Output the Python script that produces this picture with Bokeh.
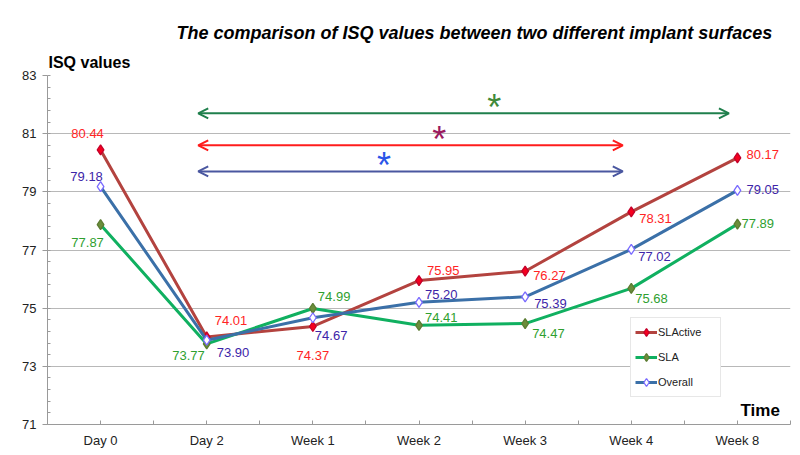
from bokeh.plotting import figure
from bokeh.models import (ColumnDataSource, Range1d, FixedTicker, Label, Arrow,
                          OpenHead, Legend, LegendItem, Title)
from bokeh.core.properties import value
from bokeh.embed import file_html
from bokeh.resources import INLINE
import numpy as np

# ---------------- data ----------------
categories = ["Day 0", "Day 2", "Week 1", "Week 2", "Week 3", "Week 4", "Week 8"]
slactive = [80.44, 74.01, 74.37, 75.95, 76.27, 78.31, 80.17]
sla = [77.87, 73.77, 74.99, 74.41, 74.47, 75.68, 77.89]
overall = [79.18, 73.90, 74.67, 75.20, 75.39, 77.02, 79.05]
y_ticks = [71, 73, 75, 77, 79, 81, 83]

# significance brackets: start category, end category, level
sig_start = ["Day 2", "Day 2", "Day 2"]
sig_end = ["Week 8", "Week 4", "Week 4"]
sig_level = [81.7, 80.6, 79.7]

# ---------------- styles ----------------
FONT = "Liberation Sans"
series = [
    dict(name="SLActive", vals=slactive, line="#b3433f", mfill="#f5001e", mline="#c4002a",
         tcol="#ff2424",
         dx=[-13, 8, 0, 8, 8, 8, 9], dy=[-16, -16, 29, -10, 4, 7, -3],
         al=["center", "left", "center", "left", "left", "left", "left"]),
    dict(name="SLA", vals=sla, line="#10b060", mfill="#6b8e3b", mline="#5c7c32",
         tcol="#2f9f2f",
         dx=[-13, -2, 5, 6, 7, 4, 4], dy=[18, 12, -12, -8, 10, 10, -1],
         al=["center", "right", "left", "left", "left", "left", "left"]),
    dict(name="Overall", vals=overall, line="#3b70a8", mfill="#ffffff", mline="#7a6bff",
         tcol="#3d24a8",
         dx=[-14, 10, 2, 6, 9, 7, 9], dy=[-10, 12, 18, -8, 7, 7, -1],
         al=["center", "left", "left", "left", "left", "left", "left"]),
]

W, H = 800, 455
p = figure(width=W, height=H, output_backend="svg", toolbar_location=None,
           x_range=Range1d(-0.5, 6.5), y_range=Range1d(71, 83),
           min_border_left=47, min_border_right=10, min_border_top=75,
           min_border_bottom=31)
p.title.visible = False
p.outline_line_color = None
p.background_fill_color = "white"
p.border_fill_color = "white"

xs = list(range(len(categories)))

# x axis
p.xaxis.ticker = FixedTicker(ticks=xs, minor_ticks=list(np.arange(-0.5, 7, 1.0)))
p.xaxis.major_label_overrides = {i: c for i, c in enumerate(categories)}
p.xaxis.major_tick_in = 4
p.xaxis.major_tick_out = 0
p.xaxis.minor_tick_in = 4
p.xaxis.minor_tick_out = 0
p.xaxis.axis_line_color = "#9a9a9a"
p.xaxis.major_tick_line_color = "#9a9a9a"
p.xaxis.minor_tick_line_color = "#9a9a9a"
p.xaxis.major_label_text_font = FONT
p.xaxis.major_label_text_font_size = "13px"
p.xaxis.major_label_text_color = "#222222"
p.xaxis.major_label_standoff = 8
p.xgrid.visible = False

# y axis
p.yaxis.ticker = FixedTicker(ticks=y_ticks,
                             minor_ticks=[round(v, 1) for v in np.arange(71, 83.01, 0.4)])
p.yaxis.major_tick_in = 0
p.yaxis.major_tick_out = 5
p.yaxis.minor_tick_in = 3
p.yaxis.minor_tick_out = 0
p.yaxis.axis_line_color = "#9a9a9a"
p.yaxis.major_tick_line_color = "#9a9a9a"
p.yaxis.minor_tick_line_color = "#9a9a9a"
p.yaxis.major_label_text_font = FONT
p.yaxis.major_label_text_font_size = "13px"
p.yaxis.major_label_text_color = "#222222"
p.yaxis.major_label_standoff = 6
p.ygrid.grid_line_color = "#b8b8b8"
p.ygrid.grid_line_width = 1

# series
legend_items = []
for s in series:
    src = ColumnDataSource(dict(x=xs, y=s["vals"]))
    ln = p.line("x", "y", source=src, line_color=s["line"], line_width=3)
    sc = p.scatter("x", "y", source=src, marker="diamond", size=10,
                   fill_color=s["mfill"], line_color=s["mline"], line_width=1.3)
    legend_items.append(LegendItem(label=s["name"], renderers=[ln, sc]))

for s in series:
    tsrc = ColumnDataSource(dict(x=xs, y=s["vals"], t=["%.2f" % v for v in s["vals"]],
                                 dx=s["dx"], dy=s["dy"], al=s["al"]))
    p.text("x", "y", text="t", source=tsrc, x_offset="dx", y_offset="dy",
           text_align="al", text_baseline="middle", text_color=s["tcol"],
           text_font=value(FONT), text_font_size="13px")

# significance arrows with asterisks
arrow_cols = ["#1f7f4c", "#ff1c1c", "#4a57a0"]
star_cols = ["#3f8a3a", "#9a1a5e", "#2a55e8"]
star_x = [3.71, 3.19, 2.67]
STAR_LIFT = 0.2
for st, en, lv, ac, sc_, sx in zip(sig_start, sig_end, sig_level, arrow_cols, star_cols, star_x):
    x0 = categories.index(st) - 0.08
    x1 = categories.index(en) - 0.08
    p.add_layout(Arrow(x_start=x0, y_start=lv, x_end=x1, y_end=lv,
                       line_color=ac, line_width=2,
                       start=OpenHead(size=10, line_color=ac, line_width=2),
                       end=OpenHead(size=10, line_color=ac, line_width=2)))
    p.add_layout(Label(x=sx, y=lv + STAR_LIFT, text="*", text_color=sc_, text_font=FONT,
                       text_font_size="36px", text_align="center",
                       text_baseline="middle"))

# legend
legend = Legend(items=legend_items, location=(583, 27), orientation="vertical",
                label_text_font=FONT, label_text_font_size="11px",
                label_text_color="#222222", glyph_width=22, glyph_height=20,
                label_height=20, label_width=58, spacing=5, padding=4, margin=0,
                label_standoff=1,
                border_line_color="#cfcfcf", background_fill_color="white",
                background_fill_alpha=1)
p.add_layout(legend, "center")

# titles
p.add_layout(Title(text="ISQ values", text_font=FONT, text_font_size="16px",
                   text_font_style="bold", align="left", offset=1, standoff=9,
                   text_color="#000000"), "above")
p.add_layout(Title(text="The comparison of ISQ values between two different implant surfaces",
                   text_font=FONT, text_font_size="18px", text_font_style="bold italic",
                   align="left", offset=129, standoff=10, text_color="#000000"), "above")

p.add_layout(Label(x=693, y=14, x_units="screen", y_units="screen", text="Time",
                   text_font=FONT, text_font_size="17px", text_font_style="bold",
                   text_align="left", text_baseline="middle", text_color="#000000"))

open("out.html", "w").write(file_html(p, INLINE))
